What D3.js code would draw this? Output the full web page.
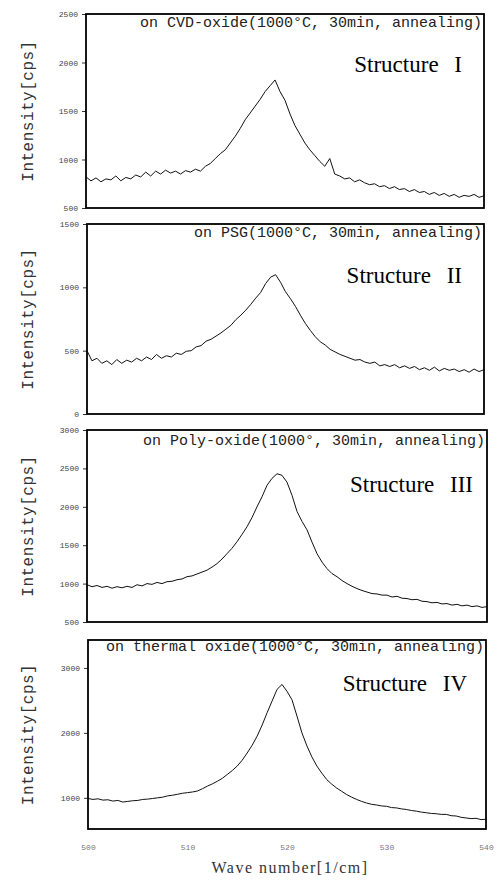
<!DOCTYPE html>
<html>
<head>
<meta charset="utf-8">
<script src="https://cdn.jsdelivr.net/npm/d3@7"></script>
<style>
  body { margin: 0; background: #fff; }
  svg { display: block; }
  .tick text { font-family: "Liberation Mono", monospace; font-size: 8px; fill: #444; }
</style>
</head>
<body>
<svg id="chart" width="503" height="881"></svg>
<script>
// wave number grid (1/cm)
const waveNumber = [
  500, 500.5, 501, 501.5, 502, 502.5, 503, 503.5, 504, 504.5,
  505, 505.5, 506, 506.5, 507, 507.5, 508, 508.5, 509, 509.5,
  510, 510.5, 511, 511.5, 512, 512.5, 513, 513.5, 514, 514.5,
  515, 515.5, 516, 516.5, 517, 517.5, 518, 518.5, 519, 519.5,
  520, 520.5, 521, 521.5, 522, 522.5, 523, 523.5, 524, 524.5,
  525, 525.5, 526, 526.5, 527, 527.5, 528, 528.5, 529, 529.5,
  530, 530.5, 531, 531.5, 532, 532.5, 533, 533.5, 534, 534.5,
  535, 535.5, 536, 536.5, 537, 537.5, 538, 538.5, 539, 539.5,
  540
]

// intensities [cps]
const structure1 = [
  820, 780, 810, 770, 800, 790, 830, 780, 815, 800,
  840, 820, 870, 830, 880, 850, 890, 860, 880, 850,
  885, 870, 900, 880, 930, 960, 1010, 1060, 1100, 1170,
  1240, 1320, 1410, 1480, 1550, 1620, 1700, 1760, 1820, 1700,
  1610, 1470, 1350, 1260, 1170, 1100, 1040, 980, 930, 1010,
  850, 830, 800, 810, 770, 790, 760, 740, 750, 720,
  730, 700, 720, 690, 700, 670, 690, 660, 670, 640,
  660, 630, 650, 620, 640, 610, 630, 620, 640, 610,
  625
]
const structure2 = [
  500, 420, 440, 400, 420, 390, 430, 400, 425, 410,
  440, 420, 450, 430, 470, 440, 460, 450, 480, 470,
  495, 500, 530, 540, 575, 590, 615, 640, 670, 700,
  745, 780, 820, 865, 915, 960, 1030, 1080, 1100, 1040,
  965, 910, 850, 780, 715, 660, 610, 570, 545, 510,
  490, 470, 455, 440, 425, 430, 410, 400, 410, 380,
  390, 375, 390, 365, 380, 360, 375, 350, 365, 345,
  370, 340, 360, 345, 355, 335, 350, 330, 355, 335,
  350
]
const structure3 = [
  985, 960, 975, 950, 965, 940, 960, 945, 965, 950,
  985, 970, 1000, 990, 1015, 1000, 1025, 1030, 1050, 1060,
  1090, 1100, 1125, 1150, 1175, 1215, 1260, 1320, 1390, 1460,
  1545, 1640, 1740, 1860, 2000, 2130, 2280, 2370, 2430, 2410,
  2320, 2150, 1940, 1810, 1700, 1540, 1390, 1280, 1195, 1130,
  1090, 1040, 1000, 965, 935, 910, 890, 870, 865, 850,
  850, 825, 835, 810, 805, 790, 795, 770, 765, 750,
  755, 735, 740, 720, 730, 710, 720, 700, 710, 690,
  700
]
const structure4 = [
  990, 975, 985, 965, 970, 950, 960, 935, 945, 955,
  960, 975, 980, 990, 1000, 1010, 1030, 1040, 1055, 1070,
  1080, 1090, 1105, 1140, 1180, 1215, 1255, 1300, 1360, 1420,
  1490, 1580, 1690, 1810, 1950, 2120, 2310, 2490, 2670, 2745,
  2640, 2510, 2260, 2000, 1800, 1630, 1490, 1380, 1280, 1210,
  1150, 1100, 1050, 1010, 975, 945, 920, 900, 890, 875,
  870, 850, 845, 830, 820, 805, 795, 780, 770, 760,
  755, 745, 745, 725, 720, 700, 690, 680, 685, 665,
  670
]

const yTicks1 = [500, 1000, 1500, 2000, 2500]
const yTicks2 = [0, 500, 1000, 1500]
const yTicks3 = [500, 1000, 1500, 2000, 2500, 3000]
const yTicks4 = [1000, 2000, 3000]
const xTicks = [500, 510, 520, 530, 540]

const notes = [
  "on CVD-oxide(1000°C, 30min, annealing)",
  "on PSG(1000°C, 30min, annealing)",
  "on Poly-oxide(1000°, 30min, annealing)",
  "on thermal oxide(1000°C, 30min, annealing)"
]
const names = ["Structure I", "Structure II", "Structure III", "Structure IV"]

// panel boxes (pixels) and y ranges
var panels = [
  { data: structure1, ticks: yTicks1, domain: [500, 2500], left: 86, right: 484, top: 14, bottom: 208, nameX: 462, nameY: 72, noteY: 27 },
  { data: structure2, ticks: yTicks2, domain: [0, 1500], left: 87, right: 484, top: 224, bottom: 414, nameX: 462, nameY: 283, noteY: 237 },
  { data: structure3, ticks: yTicks3, domain: [500, 3000], left: 87, right: 487, top: 430, bottom: 622, nameX: 473, nameY: 492, noteY: 445 },
  { data: structure4, ticks: yTicks4, domain: [520, 3430], left: 88, right: 486, top: 640, bottom: 829, nameX: 467, nameY: 691, noteY: 651 }
]

var svg = d3.select('#chart')

panels.forEach((p, i) => {
    var x_scale = d3.scaleLinear()
        .domain([500, 540])
        .range([p.left, p.right])
    var y_scale = d3.scaleLinear()
        .domain(p.domain)
        .range([p.bottom, p.top])

    var g = svg.append('g').attr('class', 'panel-' + (i + 1))

    // y axis ticks
    var y_axis = d3.axisLeft(y_scale)
        .tickValues(p.ticks)
        .tickSize(4)
        .tickPadding(4)
        .tickFormat(d3.format('d'))
    g.append('g')
        .attr('transform', 'translate(' + p.left + ',0)')
        .call(y_axis)
        .call(a => a.select('.domain').remove())
        .call(a => a.selectAll('.tick line').attr('stroke', '#333'))

    // spectrum
    var line = d3.line()
        .x((d, idx) => x_scale(waveNumber[idx]))
        .y(d => y_scale(d))
    g.append('path')
        .attr('d', line(p.data))
        .attr('stroke', '#111')
        .attr('stroke-width', 1)
        .attr('fill', 'none')

    // frame
    g.append('rect')
        .attr('x', p.left)
        .attr('y', p.top)
        .attr('width', p.right - p.left)
        .attr('height', p.bottom - p.top)
        .attr('fill', 'none')
        .attr('stroke', '#000')
        .attr('stroke-width', 1.8)

    g.append('text')
        .attr('x', p.right - 2)
        .attr('y', p.noteY)
        .attr('text-anchor', 'end')
        .style('font-family', '"Liberation Mono", monospace')
        .style('font-size', '15px')
        .style('fill', '#222')
        .text(notes[i])

    g.append('text')
        .attr('x', p.nameX)
        .attr('y', p.nameY)
        .attr('text-anchor', 'end')
        .style('font-family', '"Liberation Serif", serif')
        .style('font-size', '23px')
        .style('word-spacing', '10px')
        .text(names[i])

    g.append('text')
        .attr('transform', 'translate(33,' + ((p.top + p.bottom) / 2) + ') rotate(-90)')
        .attr('text-anchor', 'middle')
        .style('font-family', '"Liberation Mono", monospace')
        .style('font-size', '16px')
        .style('letter-spacing', '0.5px')
        .style('fill', '#333')
        .text('Intensity[cps]')

    // x axis under the last panel
    if (i === panels.length - 1) {
        var x_axis = d3.axisBottom(x_scale)
            .tickValues(xTicks)
            .tickSize(0)
            .tickPadding(15)
            .tickFormat(d3.format('d'))
        g.append('g')
            .attr('transform', 'translate(0,' + p.bottom + ')')
            .call(x_axis)
            .call(a => a.select('.domain').remove())
            .call(a => a.selectAll('.tick text').style('fill', '#777'))
        svg.append('text')
            .attr('x', 290)
            .attr('y', 873)
            .attr('text-anchor', 'middle')
            .style('font-family', '"Liberation Serif", serif')
            .style('font-size', '16px')
            .style('letter-spacing', '1.5px')
            .style('fill', '#333')
            .text('Wave number[1/cm]')
    }
})
</script>
</body>
</html>
